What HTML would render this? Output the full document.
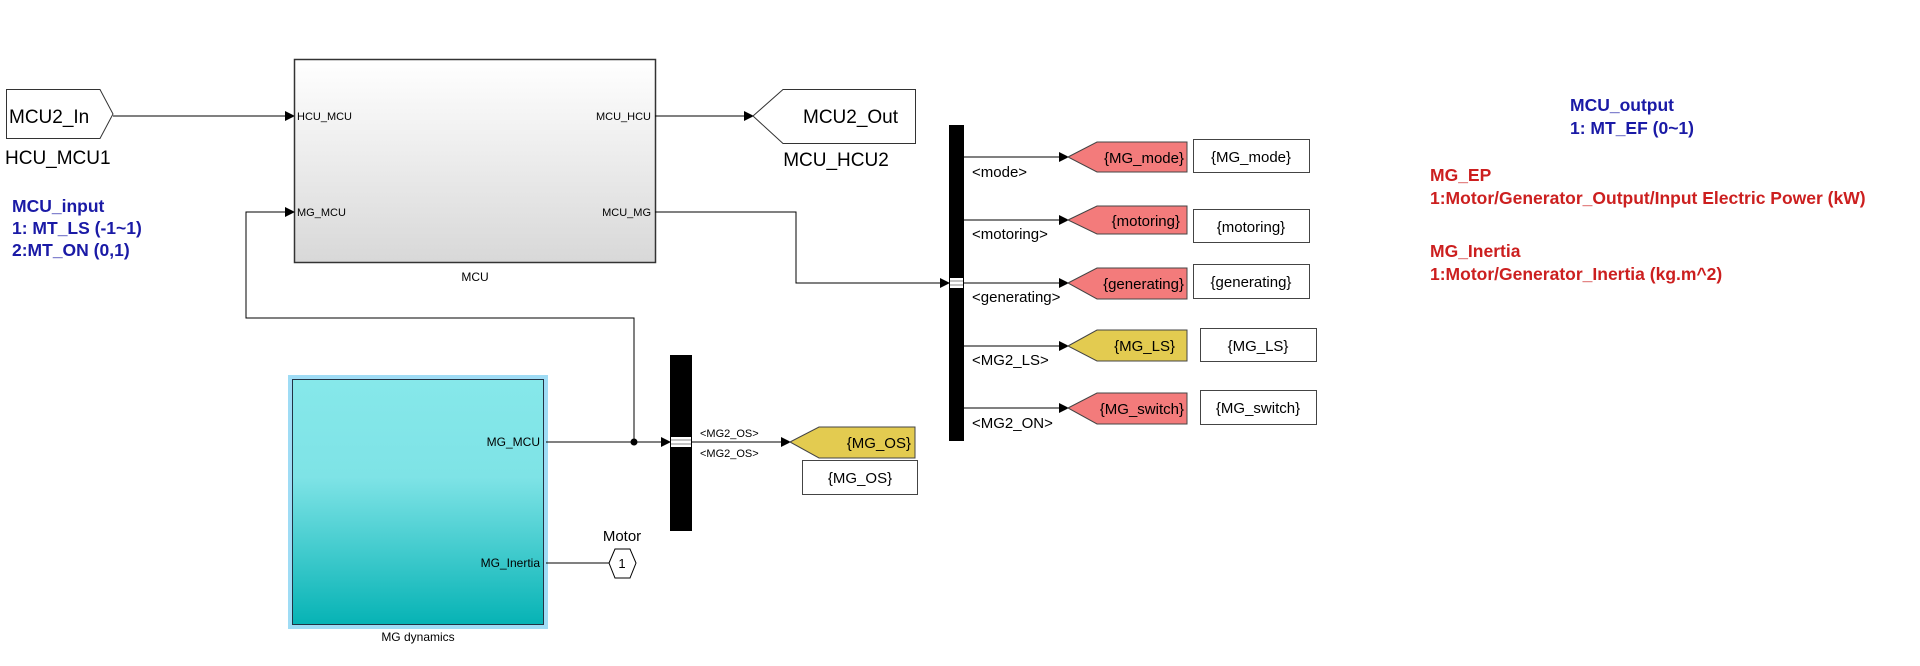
<!DOCTYPE html>
<html><head><meta charset="utf-8"><style>
html,body{margin:0;padding:0;background:#fff;}
svg{display:block;font-family:"Liberation Sans",Arial,sans-serif;}
</style></head><body>
<svg width="1920" height="666" viewBox="0 0 1920 666" xmlns="http://www.w3.org/2000/svg">
<defs>
<linearGradient id="g1" x1="0" y1="0" x2="0" y2="1"><stop offset="0" stop-color="#ffffff"/><stop offset="1" stop-color="#d8d8d8"/></linearGradient>
<linearGradient id="g2" x1="0" y1="0" x2="0" y2="1"><stop offset="0" stop-color="#86e8ea"/><stop offset="0.4" stop-color="#7ee3e6"/><stop offset="1" stop-color="#06b3b5"/></linearGradient>
<marker id="a" markerWidth="10" markerHeight="10" refX="9" refY="5" orient="auto" markerUnits="userSpaceOnUse"><path d="M0,0 L10,5 L0,10z" fill="#000"/></marker>
</defs>
<g fill="none" stroke="#000" stroke-width="1">
<!-- MCU2_In -->
<path d="M6.5,89.5 H100 L113,114 L100,138.5 H6.5z" fill="#fff" stroke="#333"/>
<line x1="113" y1="116" x2="294" y2="116" marker-end="url(#a)"/>
<!-- MCU block -->
<rect x="294.5" y="59.5" width="361" height="203" fill="url(#g1)" stroke="#333" stroke-width="1.5"/>
<line x1="655" y1="116" x2="753" y2="116" marker-end="url(#a)"/>
<path d="M753,116 L783,89.5 H915.5 V143.5 H783z" fill="#fff" stroke="#333"/>
<polyline points="655,212 796,212 796,283 949,283" marker-end="url(#a)"/>
<polyline points="634,442 634,318 246,318 246,212 294,212" marker-end="url(#a)"/>
<!-- bus 1 -->
<rect x="949" y="125" width="15" height="316" fill="#000" stroke="none"/>
<rect x="950" y="278" width="13" height="10" fill="#fff" stroke="none"/>
<line x1="950" y1="281" x2="963" y2="281" stroke="#888"/><line x1="950" y1="285" x2="963" y2="285" stroke="#888"/>
<line x1="964" y1="157" x2="1068" y2="157" marker-end="url(#a)"/>
<line x1="964" y1="220" x2="1068" y2="220" marker-end="url(#a)"/>
<line x1="964" y1="283" x2="1068" y2="283" marker-end="url(#a)"/>
<line x1="964" y1="346" x2="1068" y2="346" marker-end="url(#a)"/>
<line x1="964" y1="408" x2="1068" y2="408" marker-end="url(#a)"/>
<g stroke="#444">
<path d="M1068,157 L1097,142 H1187 V172 H1097z" fill="#f37b7b"/>
<path d="M1068,220 L1097,206 H1187 V234 H1097z" fill="#f37b7b"/>
<path d="M1068,283 L1097,268 H1187 V299 H1097z" fill="#f37b7b"/>
<path d="M1068,346 L1097,330 H1187 V361 H1097z" fill="#e3cb50"/>
<path d="M1068,408 L1097,393 H1187 V424 H1097z" fill="#f37b7b"/>
<rect x="1193.5" y="139.5" width="116" height="33" fill="#fff"/>
<rect x="1193.5" y="209.5" width="116" height="33" fill="#fff"/>
<rect x="1193.5" y="264.5" width="116" height="34" fill="#fff"/>
<rect x="1200.5" y="328.5" width="116" height="33" fill="#fff"/>
<rect x="1200.5" y="390.5" width="116" height="34" fill="#fff"/>
</g>
<!-- MG dynamics -->
<rect x="290" y="377" width="256" height="250" fill="none" stroke="#9fdcf5" stroke-width="4"/>
<rect x="292.5" y="379.5" width="251" height="245" fill="url(#g2)" stroke="#234"/>
<line x1="546" y1="442" x2="670" y2="442" marker-end="url(#a)"/>
<circle cx="634" cy="442" r="3" fill="#000"/>
<rect x="670" y="355" width="22" height="176" fill="#000" stroke="none"/>
<rect x="671" y="437" width="20" height="10" fill="#fff" stroke="none"/>
<line x1="671" y1="440" x2="691" y2="440" stroke="#888"/><line x1="671" y1="444" x2="691" y2="444" stroke="#888"/>
<line x1="692" y1="442" x2="790" y2="442" marker-end="url(#a)"/>
<path d="M790,442 L819,427 H915 V458 H819z" fill="#e3cb50" stroke="#444"/>
<rect x="802.5" y="460.5" width="115" height="34" fill="#fff" stroke="#444"/>
<line x1="546" y1="563" x2="609" y2="563"/>
<path d="M609,563 L615,549 H630 L636,563 L630,578 H615z" fill="#fff"/>
</g>
<g fill="#000">
<text x="9" y="123" font-size="19">MCU2_In</text>
<text x="5" y="164" font-size="19">HCU_MCU1</text>
<text x="297" y="120" font-size="11">HCU_MCU</text>
<text x="297" y="216" font-size="11">MG_MCU</text>
<text x="651" y="120" font-size="11" text-anchor="end">MCU_HCU</text>
<text x="651" y="216" font-size="11" text-anchor="end">MCU_MG</text>
<text x="475" y="281" font-size="12" text-anchor="middle">MCU</text>
<text x="803" y="123" font-size="19">MCU2_Out</text>
<text x="836" y="166" font-size="19" text-anchor="middle">MCU_HCU2</text>
<g font-size="15">
<text x="972" y="177">&lt;mode&gt;</text>
<text x="972" y="239">&lt;motoring&gt;</text>
<text x="972" y="302">&lt;generating&gt;</text>
<text x="972" y="365">&lt;MG2_LS&gt;</text>
<text x="972" y="428">&lt;MG2_ON&gt;</text>
<text x="1184" y="163" text-anchor="end">{MG_mode}</text>
<text x="1180" y="226" text-anchor="end">{motoring}</text>
<text x="1184" y="289" text-anchor="end">{generating}</text>
<text x="1175" y="351" text-anchor="end">{MG_LS}</text>
<text x="1184" y="414" text-anchor="end">{MG_switch}</text>
<text x="1251" y="162" text-anchor="middle">{MG_mode}</text>
<text x="1251" y="232" text-anchor="middle">{motoring}</text>
<text x="1251" y="287" text-anchor="middle">{generating}</text>
<text x="1258" y="351" text-anchor="middle">{MG_LS}</text>
<text x="1258" y="413" text-anchor="middle">{MG_switch}</text>
<text x="911" y="448" text-anchor="end">{MG_OS}</text>
<text x="860" y="483" text-anchor="middle">{MG_OS}</text>
<text x="622" y="541" text-anchor="middle">Motor</text>
</g>
<text x="700" y="437" font-size="11">&lt;MG2_OS&gt;</text>
<text x="700" y="457" font-size="11">&lt;MG2_OS&gt;</text>
<text x="540" y="446" font-size="12" text-anchor="end">MG_MCU</text>
<text x="540" y="567" font-size="12" text-anchor="end">MG_Inertia</text>
<text x="418" y="641" font-size="12" text-anchor="middle">MG dynamics</text>
<text x="622" y="568" font-size="13" text-anchor="middle">1</text>
</g>
<g font-weight="bold" font-size="17.5">
<g fill="#1a1aa6">
<text x="12" y="212">MCU_input</text>
<text x="12" y="234">1: MT_LS (-1~1)</text>
<text x="12" y="256">2:MT_ON (0,1)</text>
<text x="1570" y="111">MCU_output</text>
<text x="1570" y="134">1: MT_EF (0~1)</text>
</g>
<g fill="#cc1f1f">
<text x="1430" y="181">MG_EP</text>
<text x="1430" y="204">1:Motor/Generator_Output/Input Electric Power (kW)</text>
<text x="1430" y="257">MG_Inertia</text>
<text x="1430" y="280">1:Motor/Generator_Inertia (kg.m^2)</text>
</g>
</g>
</svg>
</body></html>
